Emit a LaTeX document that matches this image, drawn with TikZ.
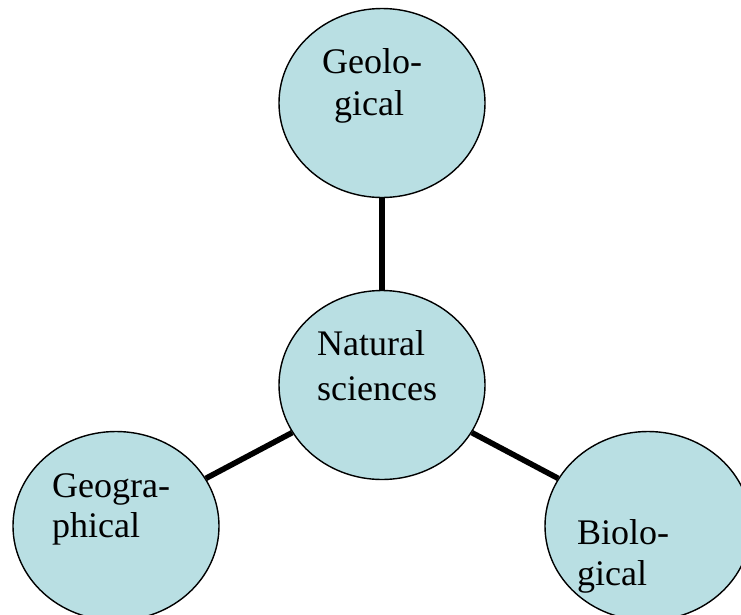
\documentclass[tikz,border=0pt]{standalone}
\usepackage{fontspec}
\setmainfont{Liberation Serif}
\usetikzlibrary{shapes.geometric}
\definecolor{bubble}{RGB}{185,223,227}
\tikzset{
  bubble/.style={ellipse, draw=black, line width=1.4pt, fill=bubble,
    minimum width=206pt, minimum height=189pt, inner sep=0pt},
  link/.style={line width=5.6pt, black},
  lbl/.style={anchor=base west, inner sep=0pt, font=\fontsize{36}{45}\selectfont}
}
\begin{document}
\begin{tikzpicture}[x=1pt,y=-1pt]
\clip (0,0) rectangle (741,614);
\fill[white] (0,0) rectangle (741,614);
\node[bubble] (geo)  at (382,103) {};
\node[bubble] (nat)  at (382,385) {};
\node[bubble] (geog) at (116,526) {};
\node[bubble] (bio)  at (648,526) {};
\draw[link] (nat) -- (geo);
\draw[link] (nat) -- (geog);
\draw[link] (nat) -- (bio);
\begin{scope}
\clip (280,0) rectangle (490,122);
\node[lbl] (geoA) at (322,73) {Geolo-};
\node[lbl] (geoB) at (334,115) {gical};
\end{scope}
\node[lbl] (natA) at (317,355) {Natural};
\node[lbl] (natB) at (317,400) {sciences};
\node[lbl] (geogA) at (52,497) {Geogra-};
\node[lbl] (geogB) at (52,537) {phical};
\begin{scope}
\clip (550,400) rectangle (741,592);
\node[lbl] (bioA) at (577,544) {Biolo-};
\node[lbl] (bioB) at (577,585) {gical};
\end{scope}
\end{tikzpicture}
\end{document}
